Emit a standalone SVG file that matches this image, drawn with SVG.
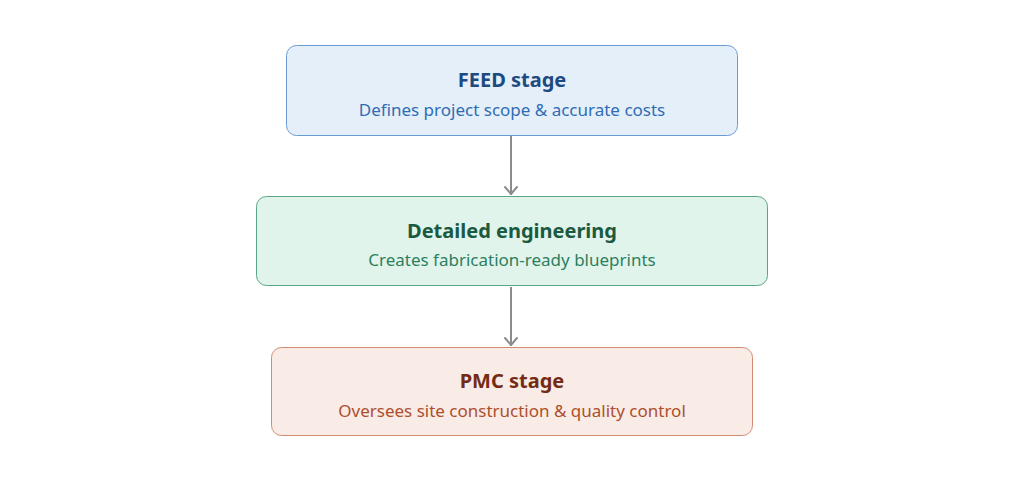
<svg xmlns="http://www.w3.org/2000/svg" width="1024" height="482" viewBox="0 0 1024 482">
<style>
.t{font-family:"Noto Sans","Open Sans",sans-serif;font-size:20px;font-weight:bold;text-anchor:middle}
.s{font-family:"Noto Sans","Open Sans",sans-serif;font-size:17px;text-anchor:middle}
.c{stroke:#8c8c8c;stroke-width:2;fill:none}
.h{stroke:#8c8c8c;stroke-width:2;fill:none;stroke-linecap:round;stroke-linejoin:round}
</style>
<rect width="1024" height="482" fill="#ffffff"/>
<g id="connectors">
<line class="c" x1="511" y1="136" x2="511" y2="195"/>
<path class="h" d="M505,187 L511,194 L517,187"/>
<line class="c" x1="511" y1="287" x2="511" y2="346"/>
<path class="h" d="M505,338 L511,345 L517,338"/>
</g>
<g id="feed">
<rect x="286.5" y="45.5" width="451" height="90" rx="10" fill="#e5eff9" stroke="#6b9bd4" stroke-width="1"/>
<text class="t" x="512" y="87" fill="#1d4a80">FEED stage</text>
<text class="s" x="512" y="116" fill="#2f6db3">Defines project scope &amp; accurate costs</text>
</g>
<g id="detailed">
<rect x="256.5" y="196.5" width="511" height="89" rx="10" fill="#e1f4ec" stroke="#5aa584" stroke-width="1"/>
<text class="t" x="512" y="238" fill="#1b5a40">Detailed engineering</text>
<text class="s" x="512" y="266" fill="#2c7f5e">Creates fabrication-ready blueprints</text>
</g>
<g id="pmc">
<rect x="271.5" y="347.5" width="481" height="88" rx="10" fill="#f9ebe5" stroke="#d48a72" stroke-width="1"/>
<text class="t" x="512" y="388" fill="#742b16">PMC stage</text>
<text class="s" x="512" y="417" fill="#ad4f2d">Oversees site construction &amp; quality control</text>
</g>
</svg>
